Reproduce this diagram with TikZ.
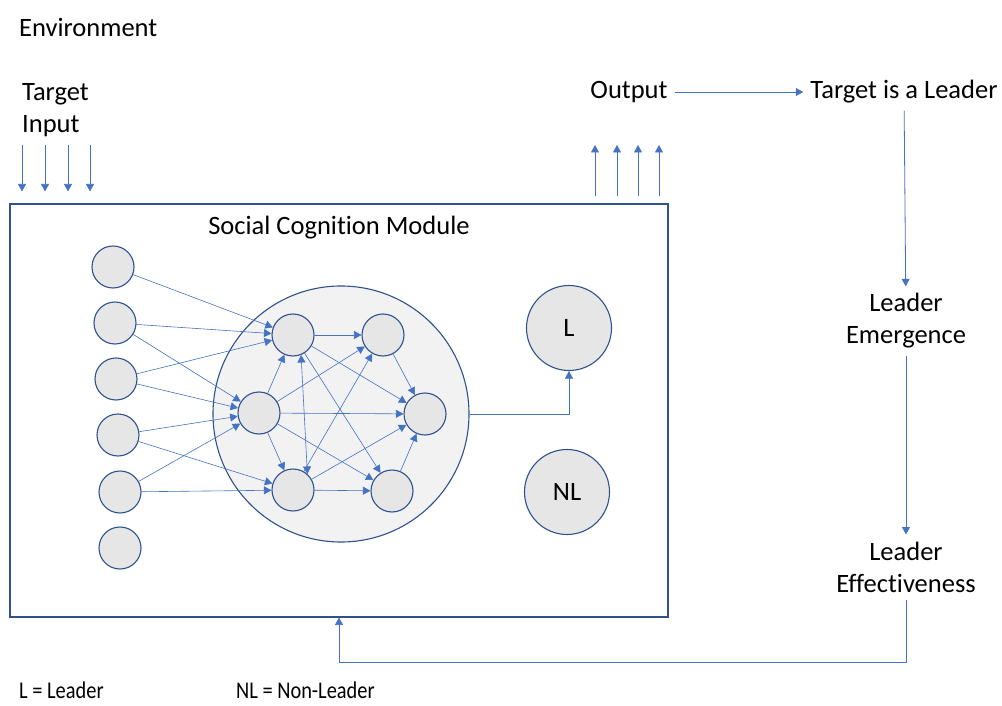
\documentclass[tikz,border=0pt]{standalone}
\usepackage{fontspec}
\setmainfont{Carlito}[Ligatures=NoCommon]
\newfontfamily\legendfont[FakeStretch=0.85, Ligatures=NoCommon]{Carlito}
\usepackage{xcolor}
\usepackage{tikz}
\usetikzlibrary{arrows.meta, positioning, calc}
\definecolor{linecolor}{RGB}{68, 114, 196}
\definecolor{bordercolor}{RGB}{47, 82, 143}
\definecolor{unitfill}{RGB}{231, 230, 230}
\definecolor{corefill}{RGB}{242, 242, 242}

\tikzset{
  >={Triangle[width=8pt,length=7.5pt]},
  txt/.style={font=\fontsize{26.5}{32}\selectfont, inner sep=0pt},
  stage/.style={txt, align=center, inner sep=7pt},
  unit/.style={circle, draw=bordercolor, line width=1.1pt, fill=unitfill, minimum size=42pt, inner sep=0pt},
  outunit/.style={unit, minimum size=85pt, font=\fontsize{26.5}{32}\selectfont},
  flow/.style={draw=linecolor, line width=0.8pt, ->},
  link/.style={draw=linecolor, line width=0.6pt, ->}
}

\begin{document}
\begin{tikzpicture}[x=1pt, y=-1pt]
    \useasboundingbox (0,0) rectangle (1002,706);
    % Environment labels
    \node[txt, anchor=west] (env) at (19,27) {Environment};
    \node[txt, anchor=west, align=left] (tin) at (22,110) {Target\\Input};
    \node[stage] (out) at (629,92) {Output};
    \node[stage] (lead) at (904,92) {Target is a Leader};
    \node[stage] (emerg) at (906,321) {Leader\\Emergence};
    \node[stage] (effect) at (906,567) {Leader\\Effectiveness};

    % Module frame
    \node[draw=bordercolor, line width=1.1pt, minimum width=658pt, minimum height=413pt, inner sep=0pt] (box) at (339,410.5) {};
    \node[txt] (title) at (339,228) {Social Cognition Module};
    \node[circle, draw=bordercolor, fill=corefill, line width=1.1pt, minimum size=256pt] (core) at (341,414) {};

    % Input and output arrows
    \foreach \x [count=\i] in {22,45,68,90} {
        \coordinate (tin\i) at (\x,145);
        \draw[flow, shorten >=12pt] (tin\i) -- (tin\i |- box.north);
    }
    \foreach \x [count=\i] in {595,617,638,659} {
        \coordinate (tout\i) at (\x,145);
        \draw[flow, shorten <=7pt] (tout\i |- box.north) -- (tout\i);
    }

    % Input units
    \foreach \x/\y [count=\i] in {113/267,115/323,116/379,118/435,120/492,120/548}
        \node[unit] (in\i) at (\x,\y) {};

    % Hidden units
    \node[unit] (ha) at (293,335) {};
    \node[unit] (hb) at (383,335) {};
    \node[unit] (hc) at (259,413) {};
    \node[unit] (hd) at (425,414) {};
    \node[unit] (he) at (293,490) {};
    \node[unit] (hf) at (392,491) {};

    % Output units
    \node[outunit] (L) at (569,328) {L};
    \node[outunit] (NL) at (567,492) {NL};

    % Connections
    \foreach \s/\t in {in1/ha, in2/ha, in2/hc, in3/ha, in3/hc, in4/hc, in4/he, in5/hc, in5/he}
        \draw[link] (\s) -- (\t);
    \foreach \s/\t in {ha/hb, ha/hd, ha/hf, hc/ha, hc/hb, hc/hd, hc/he, hc/hf, he/hb, he/hd, he/hf, hb/hd, hf/hd}
        \draw[link] (\s) -- (\t);
    \draw[link, <->] (ha.-68) -- (he.48);
    \draw[link] (core.east) -| (L.south);

    % Decision chain
    \draw[flow] (out) -- (lead);
    \draw[flow] (lead) -- (emerg);
    \draw[flow] (emerg) -- (effect);
    \coordinate (fbturn) at (906,662);
    \draw[flow] (effect.south) -- (fbturn) -| (box.south);

    % Legend
    \node[anchor=west, font=\legendfont\fontsize{24}{28}\selectfont, inner sep=0pt] (keyl) at (19,690) {L = Leader};
    \node[anchor=west, font=\legendfont\fontsize{24}{28}\selectfont, inner sep=0pt] (keynl) at (236,690) {NL = Non-Leader};
\end{tikzpicture}
\end{document}
